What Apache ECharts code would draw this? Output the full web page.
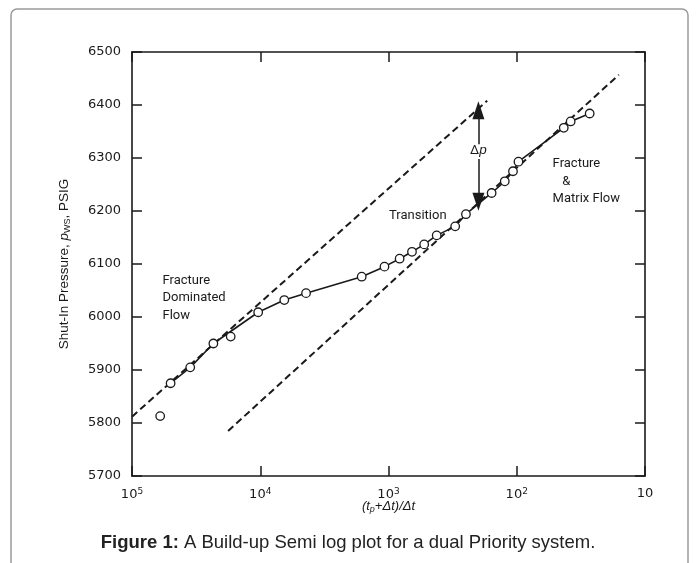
<!DOCTYPE html>
<html>
<head>
<meta charset="utf-8">
<script src="https://cdn.jsdelivr.net/npm/echarts@6/dist/echarts.min.js"></script>
<style>
  html, body { margin: 0; padding: 0; background: #fff; }
  #chart { width: 696px; height: 563px; }
</style>
</head>
<body>
<div id="chart"></div>
<script>
// Build-up test: shut-in pressure vs Horner time ratio (semi-log, decreasing ratio to the right)
const hornerRatio = [60300, 50000, 35150, 23200, 17000, 10380, 6494, 4395, 1618, 1075, 819, 656, 527, 421, 302, 249, 157, 124, 107, 97, 43, 38, 27];
const shutInPressure = [5813, 5875, 5905, 5950, 5963, 6009, 6032, 6045, 6076, 6095, 6110, 6123, 6137, 6154, 6171, 6194, 6234, 6256, 6275, 6293, 6357, 6369, 6384];
// points left off the drawn trend line
const offTrend = [0, 4];

// straight semi-log lines: fracture-only and fracture + matrix
const fractureLineX = [100000, 170];
const fractureLineY = [5812, 6408];
const matrixLineX = [17800, 16];
const matrixLineY = [5785, 6457];

// Δp double arrow between the two lines
const deltaPX = 199;
const deltaPUpper = [6326, 6390];
const deltaPLower = [6298, 6217.5];

// region notes
const noteX = [58400, 1000, 53, 199];
const noteY = [6036, 6191, 6256, 6314];
const noteText = ['Fracture\nDominated\nFlow', 'Transition', 'Fracture\n   &\nMatrix Flow', 'Δ{it|p}'];
const noteAlign = ['left', 'left', 'left', 'center'];

const yTicks = { min: 5700, max: 6500, step: 100 };
const xTickValues = [100000, 10000, 1000, 100, 10];
const xTickLabels = ['10{sup|5}', '10{sup|4}', '10{sup|3}', '10{sup|2}', '10'];

const ink = '#1a1a1a';
const noteFont = "Roboto,'Liberation Sans',sans-serif";
const sans = "'Liberation Sans',Arial,sans-serif";
const tickFont = "'DejaVu Sans',sans-serif";

const pairs = (xs, ys) => xs.map((x, i) => [x, ys[i]]);
const trend = pairs(hornerRatio, shutInPressure).filter((_, i) => offTrend.indexOf(i) < 0);

const chart = echarts.init(document.getElementById('chart'), null, { renderer: 'canvas' });

const frameTicks = { show: true, inside: true, length: 10, lineStyle: { color: ink, width: 1.5 } };
const frameLine = { show: true, lineStyle: { color: ink, width: 1.6 } };

chart.setOption({
  animation: false,
  backgroundColor: '#fff',
  title: {
    text: '{b|Figure 1:} A Build-up Semi log plot for a dual Priority system.',
    left: 'center',
    top: 528,
    textStyle: {
      fontFamily: sans, fontSize: 18.5, fontWeight: 'normal', color: '#222',
      rich: { b: { fontFamily: sans, fontSize: 18.5, fontWeight: 'bold', color: '#222' } }
    }
  },
  graphic: [{
    type: 'rect',
    shape: { x: 11, y: 9, width: 677, height: 620, r: 6 },
    style: { fill: 'none', stroke: '#9a9a9a', lineWidth: 1.5 },
    silent: true
  }],
  grid: { left: 132, right: 51, top: 52, bottom: 87, containLabel: false },
  xAxis: [{
    type: 'log', logBase: 10, min: 10, max: 100000, inverse: true,
    position: 'bottom',
    axisLine: frameLine,
    axisTick: frameTicks,
    splitLine: { show: false },
    minorTick: { show: false },
    axisLabel: {
      margin: 11, fontFamily: tickFont, fontSize: 13, color: ink,
      formatter: v => {
        const i = xTickValues.findIndex(t => Math.abs(Math.log10(t) - Math.log10(v)) < 1e-6);
        return i >= 0 ? xTickLabels[i] : '';
      },
      rich: {
        sup: { fontFamily: tickFont, fontSize: 9, color: ink, verticalAlign: 'top', padding: [0, 0, 7, 0] }
      }
    },
    name: '({it|t}{sub|p}+Δ{it|t})/Δ{it|t}',
    nameLocation: 'middle',
    nameGap: 23,
    nameMoveOverlap: false,
    nameTextStyle: {
      fontFamily: sans, fontSize: 13, fontStyle: 'italic', color: ink,
      rich: {
        it: { fontFamily: sans, fontSize: 13, fontStyle: 'italic', color: ink },
        sub: { fontFamily: sans, fontSize: 9, fontStyle: 'italic', color: ink, verticalAlign: 'bottom', padding: [6, 0, 0, 0] }
      }
    }
  }, {
    type: 'log', logBase: 10, min: 10, max: 100000, inverse: true,
    position: 'top',
    axisLine: frameLine,
    axisTick: frameTicks,
    axisLabel: { show: false },
    splitLine: { show: false }
  }],
  yAxis: [{
    type: 'value', min: yTicks.min, max: yTicks.max, interval: yTicks.step,
    position: 'left',
    axisLine: frameLine,
    axisTick: frameTicks,
    splitLine: { show: false },
    axisLabel: { margin: 11, fontFamily: tickFont, fontSize: 13, color: ink, formatter: v => String(v) },
    name: 'Shut-In Pressure, {it|p}{sub|WS}, PSIG',
    nameLocation: 'middle',
    nameGap: 60,
    nameMoveOverlap: false,
    nameTextStyle: {
      fontFamily: sans, fontSize: 13.5, color: ink,
      rich: {
        it: { fontFamily: sans, fontSize: 13.5, fontStyle: 'italic', color: ink },
        sub: { fontFamily: sans, fontSize: 9, color: ink, verticalAlign: 'bottom', padding: [6, 0, 0, 0] }
      }
    }
  }, {
    type: 'value', min: yTicks.min, max: yTicks.max, interval: yTicks.step,
    position: 'right',
    axisLine: frameLine,
    axisTick: frameTicks,
    axisLabel: { show: false },
    splitLine: { show: false }
  }],
  series: [
    {
      name: 'fracture line', type: 'line', xAxisIndex: 0, yAxisIndex: 0,
      data: pairs(fractureLineX, fractureLineY), symbol: 'none', silent: true,
      lineStyle: { color: ink, width: 2, type: [7, 4] }
    },
    {
      name: 'matrix line', type: 'line', xAxisIndex: 0, yAxisIndex: 0,
      data: pairs(matrixLineX, matrixLineY), symbol: 'none', silent: true,
      lineStyle: { color: ink, width: 2, type: [7, 4] },
      markLine: {
        silent: true,
        symbol: ['none', 'triangle'],
        symbolSize: [12, 18],
        label: { show: false },
        lineStyle: { color: ink, width: 1.5, type: 'solid' },
        data: [
          [{ coord: [deltaPX, deltaPUpper[0]] }, { coord: [deltaPX, deltaPUpper[1]] }],
          [{ coord: [deltaPX, deltaPLower[0]] }, { coord: [deltaPX, deltaPLower[1]] }]
        ]
      }
    },
    {
      name: 'trend', type: 'line', xAxisIndex: 0, yAxisIndex: 0,
      data: trend, symbol: 'none', silent: true,
      lineStyle: { color: ink, width: 1.6 }
    },
    {
      name: 'pressure', type: 'scatter', xAxisIndex: 0, yAxisIndex: 0,
      data: pairs(hornerRatio, shutInPressure),
      symbol: 'circle', symbolSize: 8.5,
      itemStyle: { color: '#fff', borderColor: ink, borderWidth: 1.3, opacity: 1 },
      z: 5
    },
    {
      name: 'notes', type: 'scatter', xAxisIndex: 0, yAxisIndex: 0,
      symbolSize: 1, itemStyle: { color: 'rgba(0,0,0,0)', opacity: 1 }, silent: true, z: 6,
      data: noteX.map((x, i) => ({
        value: [x, noteY[i]],
        name: noteText[i],
        label: noteAlign[i] === 'center' ? { position: 'inside', align: 'center' } : {}
      })),
      label: {
        show: true, position: 'right', distance: 0,
        formatter: p => p.name,
        fontFamily: noteFont, fontSize: 13, lineHeight: 17.5, color: ink, align: 'left',
        rich: { it: { fontFamily: sans, fontSize: 13.5, fontStyle: 'italic', color: ink } }
      }
    }
  ]
});
</script>
</body>
</html>
